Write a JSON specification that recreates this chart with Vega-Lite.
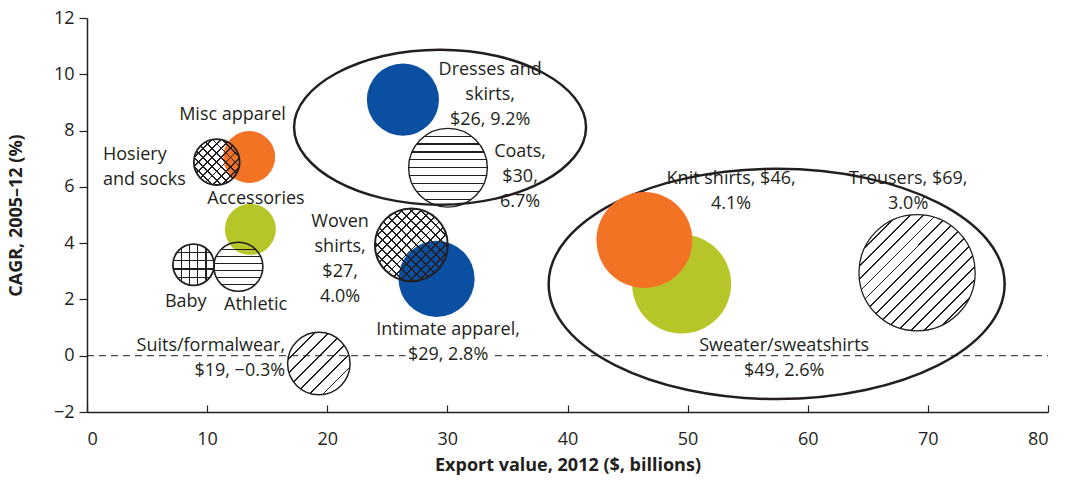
{
  "$schema": "https://vega.github.io/schema/vega-lite/v6.json",
  "width": 961,
  "height": 394,
  "autosize": {"type": "none"},
  "padding": {"left": 87, "top": 18, "right": 20, "bottom": 75},
  "background": "white",
  "config": {
    "view": {"stroke": null},
    "font": "Open Sans",
    "axis": {
      "grid": false,
      "domainColor": "#231f20",
      "domainWidth": 1.5,
      "tickColor": "#231f20",
      "tickWidth": 1.2,
      "labelFont": "Open Sans",
      "labelFontSize": 18,
      "labelColor": "#231f20",
      "titleFont": "Open Sans",
      "titleFontSize": 18,
      "titleFontWeight": "bold",
      "titleColor": "#231f20"
    }
  },
  "datasets": {
    "bubbles": [
      {"item": "Sweater/sweatshirts", "export": 49.5, "cagr": 2.55, "bubble": 98, "segment": "C"},
      {"item": "Knit shirts", "export": 46.4, "cagr": 4.11, "bubble": 92, "segment": "B"},
      {"item": "Dresses and skirts", "export": 26.3, "cagr": 9.1, "bubble": 52, "segment": "A"},
      {"item": "Intimate apparel", "export": 29.1, "cagr": 2.73, "bubble": 58, "segment": "A"},
      {"item": "Misc apparel", "export": 13.5, "cagr": 7.06, "bubble": 27, "segment": "B"},
      {"item": "Accessories", "export": 13.6, "cagr": 4.49, "bubble": 26, "segment": "C"},
      {"item": "Coats", "export": 30.05, "cagr": 6.68, "bubble": 62, "segment": "D"},
      {"item": "Trousers", "export": 69.1, "cagr": 2.95, "bubble": 135, "segment": "D"},
      {"item": "Suits/formalwear", "export": 19.3, "cagr": -0.28, "bubble": 39, "segment": "D"},
      {"item": "Woven shirts", "export": 27.0, "cagr": 3.94, "bubble": 53, "segment": "D"},
      {"item": "Hosiery and socks", "export": 10.8, "cagr": 6.88, "bubble": 21, "segment": "D"},
      {"item": "Baby", "export": 8.87, "cagr": 3.23, "bubble": 17, "segment": "D"},
      {"item": "Athletic", "export": 12.6, "cagr": 3.16, "bubble": 24, "segment": "D"}
    ],
    "labels": [
      {"item": "Misc apparel", "label": "Misc apparel", "export": 12.11, "cagr": 8.62},
      {"item": "Accessories", "label": "Accessories", "export": 14.07, "cagr": 5.64},
      {"item": "Baby", "label": "Baby", "export": 8.22, "cagr": 1.99},
      {"item": "Athletic", "label": "Athletic", "export": 14.03, "cagr": 1.88},
      {"item": "Woven shirts", "label": "Woven\nshirts,\n$27,\n4.0%", "export": 21.07, "cagr": 4.82},
      {"item": "Intimate apparel", "label": "Intimate apparel,\n$29, 2.8%", "export": 30.06, "cagr": 0.99},
      {"item": "Dresses and skirts", "label": "Dresses and\nskirts,\n$26, 9.2%", "export": 33.56, "cagr": 10.21},
      {"item": "Coats", "label": "Coats,\n$30,\n6.7%", "export": 36.05, "cagr": 7.3},
      {"item": "Knit shirts", "label": "Knit shirts, $46,\n4.1%", "export": 53.62, "cagr": 6.35},
      {"item": "Trousers", "label": "Trousers, $69,\n3.0%", "export": 68.36, "cagr": 6.35},
      {"item": "Sweater/sweatshirts", "label": "Sweater/sweatshirts\n$49, 2.6%", "export": 58.04, "cagr": 0.43},
      {"item": "Hosiery and socks", "label": "Hosiery\nand socks", "export": 1.33, "cagr": 7.2},
      {"item": "Suits/formalwear", "label": "Suits/formalwear,\n$19, −0.3%", "export": 16.49, "cagr": 0.43}
    ]
  },
  "encoding": {
    "x": {
      "field": "export", "type": "quantitative",
      "title": "Export value, 2012 ($, billions)",
      "scale": {"domain": [0, 80], "nice": false, "zero": false},
      "axis": {"values": [0, 10, 20, 30, 40, 50, 60, 70, 80], "tickSize": -7, "labelPadding": 25, "titlePadding": 8}
    },
    "y": {
      "field": "cagr", "type": "quantitative",
      "title": "CAGR, 2005–12 (%)",
      "scale": {"domain": [-2, 12], "nice": false, "zero": false},
      "axis": {"values": [-2, 0, 2, 4, 6, 8, 10, 12], "tickSize": 8, "labelPadding": 5, "titlePadding": 28}
    }
  },
  "layer": [
    {
      "data": {"values": [{"export": 29.39, "cagr": 8.12}]},
      "mark": {"type": "point", "filled": false, "opacity": 1, "color": "#231f20", "stroke": "#231f20", "strokeWidth": 2.5, "size": 85264,
        "shape": "M1,0C1,0.2816,0.5523,0.531,0,0.531C-0.5523,0.531,-1,0.2816,-1,0C-1,-0.2816,-0.5523,-0.531,0,-0.531C0.5523,-0.531,1,-0.2816,1,0Z"}
    },
    {
      "data": {"values": [{"export": 57.41, "cagr": 2.55}]},
      "mark": {"type": "point", "filled": false, "opacity": 1, "color": "#231f20", "stroke": "#231f20", "strokeWidth": 2.5, "size": 207936,
        "shape": "M1,0C1,0.2789,0.5523,0.505,0,0.505C-0.5523,0.505,-1,0.2789,-1,0C-1,-0.2789,-0.5523,-0.505,0,-0.505C0.5523,-0.505,1,-0.2789,1,0Z"}
    },
    {
      "data": {"values": [{"export": 0, "export_end": 80, "cagr": 0}]},
      "mark": {"type": "rule", "color": "#231f20", "strokeWidth": 1, "strokeDash": [7, 5]},
      "encoding": {"x2": {"field": "export_end"}}
    },
    {
      "data": {"name": "bubbles"},
      "encoding": {
        "size": {"field": "bubble", "type": "quantitative", "scale": {"domain": [0, 100], "range": [0, 10000]}, "legend": null}
      },
      "layer": [
        {
          "transform": [{"filter": "datum.segment != 'D'"}],
          "mark": {"type": "point", "shape": "circle", "filled": true, "opacity": 1, "strokeWidth": 0},
          "encoding": {"color": {"field": "segment", "type": "nominal", "scale": {"domain": ["A", "B", "C"], "range": ["#0a4fa2", "#f37325", "#b6c629"]}, "legend": null}}
        },
        {
          "transform": [{"filter": "datum.item == 'Coats'"}],
          "mark": {"type": "point", "shape": "circle", "filled": true, "opacity": 1, "stroke": "#231f20", "strokeWidth": 1.4,
            "fill": {"gradient": "linear", "x1": 0, "y1": 0, "x2": 0, "y2": 1, "stops": [
              {"offset": 0.092, "color": "rgba(0,0,0,0)"}, {"offset": 0.092, "color": "#231f20"}, {"offset": 0.108, "color": "#231f20"}, {"offset": 0.108, "color": "rgba(0,0,0,0)"},
              {"offset": 0.192, "color": "rgba(0,0,0,0)"}, {"offset": 0.192, "color": "#231f20"}, {"offset": 0.208, "color": "#231f20"}, {"offset": 0.208, "color": "rgba(0,0,0,0)"},
              {"offset": 0.292, "color": "rgba(0,0,0,0)"}, {"offset": 0.292, "color": "#231f20"}, {"offset": 0.308, "color": "#231f20"}, {"offset": 0.308, "color": "rgba(0,0,0,0)"},
              {"offset": 0.392, "color": "rgba(0,0,0,0)"}, {"offset": 0.392, "color": "#231f20"}, {"offset": 0.408, "color": "#231f20"}, {"offset": 0.408, "color": "rgba(0,0,0,0)"},
              {"offset": 0.492, "color": "rgba(0,0,0,0)"}, {"offset": 0.492, "color": "#231f20"}, {"offset": 0.508, "color": "#231f20"}, {"offset": 0.508, "color": "rgba(0,0,0,0)"},
              {"offset": 0.592, "color": "rgba(0,0,0,0)"}, {"offset": 0.592, "color": "#231f20"}, {"offset": 0.608, "color": "#231f20"}, {"offset": 0.608, "color": "rgba(0,0,0,0)"},
              {"offset": 0.692, "color": "rgba(0,0,0,0)"}, {"offset": 0.692, "color": "#231f20"}, {"offset": 0.708, "color": "#231f20"}, {"offset": 0.708, "color": "rgba(0,0,0,0)"},
              {"offset": 0.792, "color": "rgba(0,0,0,0)"}, {"offset": 0.792, "color": "#231f20"}, {"offset": 0.808, "color": "#231f20"}, {"offset": 0.808, "color": "rgba(0,0,0,0)"},
              {"offset": 0.892, "color": "rgba(0,0,0,0)"}, {"offset": 0.892, "color": "#231f20"}, {"offset": 0.908, "color": "#231f20"}, {"offset": 0.908, "color": "rgba(0,0,0,0)"}
            ]}}
        },
        {
          "transform": [{"filter": "datum.item == 'Athletic'"}],
          "mark": {"type": "point", "shape": "circle", "filled": true, "opacity": 1, "stroke": "#231f20", "strokeWidth": 1.6,
            "fill": {"gradient": "linear", "x1": 0, "y1": 0, "x2": 0, "y2": 1, "stops": [
              {"offset": 0.1296, "color": "rgba(0,0,0,0)"}, {"offset": 0.1296, "color": "#231f20"}, {"offset": 0.1562, "color": "#231f20"}, {"offset": 0.1562, "color": "rgba(0,0,0,0)"},
              {"offset": 0.2724, "color": "rgba(0,0,0,0)"}, {"offset": 0.2724, "color": "#231f20"}, {"offset": 0.299, "color": "#231f20"}, {"offset": 0.299, "color": "rgba(0,0,0,0)"},
              {"offset": 0.4153, "color": "rgba(0,0,0,0)"}, {"offset": 0.4153, "color": "#231f20"}, {"offset": 0.4419, "color": "#231f20"}, {"offset": 0.4419, "color": "rgba(0,0,0,0)"},
              {"offset": 0.5581, "color": "rgba(0,0,0,0)"}, {"offset": 0.5581, "color": "#231f20"}, {"offset": 0.5847, "color": "#231f20"}, {"offset": 0.5847, "color": "rgba(0,0,0,0)"},
              {"offset": 0.701, "color": "rgba(0,0,0,0)"}, {"offset": 0.701, "color": "#231f20"}, {"offset": 0.7276, "color": "#231f20"}, {"offset": 0.7276, "color": "rgba(0,0,0,0)"},
              {"offset": 0.8438, "color": "rgba(0,0,0,0)"}, {"offset": 0.8438, "color": "#231f20"}, {"offset": 0.8704, "color": "#231f20"}, {"offset": 0.8704, "color": "rgba(0,0,0,0)"}
            ]}}
        },
        {
          "transform": [{"filter": "datum.item == 'Trousers'"}],
          "mark": {"type": "point", "shape": "circle", "filled": true, "opacity": 1, "stroke": "#231f20", "strokeWidth": 1.3,
            "fill": {"gradient": "linear", "x1": 0, "y1": 0, "x2": 1, "y2": 1, "stops": [
              {"offset": 0.1627, "color": "rgba(0,0,0,0)"}, {"offset": 0.1627, "color": "#231f20"}, {"offset": 0.1707, "color": "#231f20"}, {"offset": 0.1707, "color": "rgba(0,0,0,0)"},
              {"offset": 0.2182, "color": "rgba(0,0,0,0)"}, {"offset": 0.2182, "color": "#231f20"}, {"offset": 0.2262, "color": "#231f20"}, {"offset": 0.2262, "color": "rgba(0,0,0,0)"},
              {"offset": 0.2738, "color": "rgba(0,0,0,0)"}, {"offset": 0.2738, "color": "#231f20"}, {"offset": 0.2818, "color": "#231f20"}, {"offset": 0.2818, "color": "rgba(0,0,0,0)"},
              {"offset": 0.3293, "color": "rgba(0,0,0,0)"}, {"offset": 0.3293, "color": "#231f20"}, {"offset": 0.3373, "color": "#231f20"}, {"offset": 0.3373, "color": "rgba(0,0,0,0)"},
              {"offset": 0.3849, "color": "rgba(0,0,0,0)"}, {"offset": 0.3849, "color": "#231f20"}, {"offset": 0.3929, "color": "#231f20"}, {"offset": 0.3929, "color": "rgba(0,0,0,0)"},
              {"offset": 0.4404, "color": "rgba(0,0,0,0)"}, {"offset": 0.4404, "color": "#231f20"}, {"offset": 0.4484, "color": "#231f20"}, {"offset": 0.4484, "color": "rgba(0,0,0,0)"},
              {"offset": 0.496, "color": "rgba(0,0,0,0)"}, {"offset": 0.496, "color": "#231f20"}, {"offset": 0.504, "color": "#231f20"}, {"offset": 0.504, "color": "rgba(0,0,0,0)"},
              {"offset": 0.5516, "color": "rgba(0,0,0,0)"}, {"offset": 0.5516, "color": "#231f20"}, {"offset": 0.5596, "color": "#231f20"}, {"offset": 0.5596, "color": "rgba(0,0,0,0)"},
              {"offset": 0.6071, "color": "rgba(0,0,0,0)"}, {"offset": 0.6071, "color": "#231f20"}, {"offset": 0.6151, "color": "#231f20"}, {"offset": 0.6151, "color": "rgba(0,0,0,0)"},
              {"offset": 0.6627, "color": "rgba(0,0,0,0)"}, {"offset": 0.6627, "color": "#231f20"}, {"offset": 0.6707, "color": "#231f20"}, {"offset": 0.6707, "color": "rgba(0,0,0,0)"},
              {"offset": 0.7182, "color": "rgba(0,0,0,0)"}, {"offset": 0.7182, "color": "#231f20"}, {"offset": 0.7262, "color": "#231f20"}, {"offset": 0.7262, "color": "rgba(0,0,0,0)"},
              {"offset": 0.7738, "color": "rgba(0,0,0,0)"}, {"offset": 0.7738, "color": "#231f20"}, {"offset": 0.7818, "color": "#231f20"}, {"offset": 0.7818, "color": "rgba(0,0,0,0)"},
              {"offset": 0.8293, "color": "rgba(0,0,0,0)"}, {"offset": 0.8293, "color": "#231f20"}, {"offset": 0.8373, "color": "#231f20"}, {"offset": 0.8373, "color": "rgba(0,0,0,0)"}
            ]}}
        },
        {
          "transform": [{"filter": "datum.item == 'Suits/formalwear'"}],
          "mark": {"type": "point", "shape": "circle", "filled": true, "opacity": 1, "stroke": "#231f20", "strokeWidth": 1.5,
            "fill": {"gradient": "linear", "x1": 0, "y1": 0, "x2": 1, "y2": 1, "stops": [
              {"offset": 0.2156, "color": "rgba(0,0,0,0)"}, {"offset": 0.2156, "color": "#231f20"}, {"offset": 0.2288, "color": "#231f20"}, {"offset": 0.2288, "color": "rgba(0,0,0,0)"},
              {"offset": 0.3267, "color": "rgba(0,0,0,0)"}, {"offset": 0.3267, "color": "#231f20"}, {"offset": 0.3399, "color": "#231f20"}, {"offset": 0.3399, "color": "rgba(0,0,0,0)"},
              {"offset": 0.4378, "color": "rgba(0,0,0,0)"}, {"offset": 0.4378, "color": "#231f20"}, {"offset": 0.451, "color": "#231f20"}, {"offset": 0.451, "color": "rgba(0,0,0,0)"},
              {"offset": 0.549, "color": "rgba(0,0,0,0)"}, {"offset": 0.549, "color": "#231f20"}, {"offset": 0.5622, "color": "#231f20"}, {"offset": 0.5622, "color": "rgba(0,0,0,0)"},
              {"offset": 0.6601, "color": "rgba(0,0,0,0)"}, {"offset": 0.6601, "color": "#231f20"}, {"offset": 0.6733, "color": "#231f20"}, {"offset": 0.6733, "color": "rgba(0,0,0,0)"},
              {"offset": 0.7712, "color": "rgba(0,0,0,0)"}, {"offset": 0.7712, "color": "#231f20"}, {"offset": 0.7844, "color": "#231f20"}, {"offset": 0.7844, "color": "rgba(0,0,0,0)"}
            ]}}
        },
        {
          "transform": [{"filter": "datum.item == 'Woven shirts'"}],
          "mark": {"type": "point", "shape": "circle", "filled": true, "opacity": 1, "stroke": "#231f20", "strokeWidth": 2,
            "fill": {"gradient": "linear", "x1": 0, "y1": 0, "x2": 1, "y2": 1, "stops": [
              {"offset": 0.1935, "color": "rgba(0,0,0,0)"}, {"offset": 0.1935, "color": "#231f20"}, {"offset": 0.2065, "color": "#231f20"}, {"offset": 0.2065, "color": "rgba(0,0,0,0)"},
              {"offset": 0.2602, "color": "rgba(0,0,0,0)"}, {"offset": 0.2602, "color": "#231f20"}, {"offset": 0.2732, "color": "#231f20"}, {"offset": 0.2732, "color": "rgba(0,0,0,0)"},
              {"offset": 0.3268, "color": "rgba(0,0,0,0)"}, {"offset": 0.3268, "color": "#231f20"}, {"offset": 0.3398, "color": "#231f20"}, {"offset": 0.3398, "color": "rgba(0,0,0,0)"},
              {"offset": 0.3935, "color": "rgba(0,0,0,0)"}, {"offset": 0.3935, "color": "#231f20"}, {"offset": 0.4065, "color": "#231f20"}, {"offset": 0.4065, "color": "rgba(0,0,0,0)"},
              {"offset": 0.4602, "color": "rgba(0,0,0,0)"}, {"offset": 0.4602, "color": "#231f20"}, {"offset": 0.4732, "color": "#231f20"}, {"offset": 0.4732, "color": "rgba(0,0,0,0)"},
              {"offset": 0.5268, "color": "rgba(0,0,0,0)"}, {"offset": 0.5268, "color": "#231f20"}, {"offset": 0.5398, "color": "#231f20"}, {"offset": 0.5398, "color": "rgba(0,0,0,0)"},
              {"offset": 0.5935, "color": "rgba(0,0,0,0)"}, {"offset": 0.5935, "color": "#231f20"}, {"offset": 0.6065, "color": "#231f20"}, {"offset": 0.6065, "color": "rgba(0,0,0,0)"},
              {"offset": 0.6602, "color": "rgba(0,0,0,0)"}, {"offset": 0.6602, "color": "#231f20"}, {"offset": 0.6732, "color": "#231f20"}, {"offset": 0.6732, "color": "rgba(0,0,0,0)"},
              {"offset": 0.7268, "color": "rgba(0,0,0,0)"}, {"offset": 0.7268, "color": "#231f20"}, {"offset": 0.7398, "color": "#231f20"}, {"offset": 0.7398, "color": "rgba(0,0,0,0)"},
              {"offset": 0.7935, "color": "rgba(0,0,0,0)"}, {"offset": 0.7935, "color": "#231f20"}, {"offset": 0.8065, "color": "#231f20"}, {"offset": 0.8065, "color": "rgba(0,0,0,0)"}
            ]}}
        },
        {
          "transform": [{"filter": "datum.item == 'Woven shirts'"}],
          "mark": {"type": "point", "shape": "circle", "filled": true, "opacity": 1, "strokeWidth": 0,
            "fill": {"gradient": "linear", "x1": 1, "y1": 0, "x2": 0, "y2": 1, "stops": [
              {"offset": 0.1935, "color": "rgba(0,0,0,0)"}, {"offset": 0.1935, "color": "#231f20"}, {"offset": 0.2065, "color": "#231f20"}, {"offset": 0.2065, "color": "rgba(0,0,0,0)"},
              {"offset": 0.2602, "color": "rgba(0,0,0,0)"}, {"offset": 0.2602, "color": "#231f20"}, {"offset": 0.2732, "color": "#231f20"}, {"offset": 0.2732, "color": "rgba(0,0,0,0)"},
              {"offset": 0.3268, "color": "rgba(0,0,0,0)"}, {"offset": 0.3268, "color": "#231f20"}, {"offset": 0.3398, "color": "#231f20"}, {"offset": 0.3398, "color": "rgba(0,0,0,0)"},
              {"offset": 0.3935, "color": "rgba(0,0,0,0)"}, {"offset": 0.3935, "color": "#231f20"}, {"offset": 0.4065, "color": "#231f20"}, {"offset": 0.4065, "color": "rgba(0,0,0,0)"},
              {"offset": 0.4602, "color": "rgba(0,0,0,0)"}, {"offset": 0.4602, "color": "#231f20"}, {"offset": 0.4732, "color": "#231f20"}, {"offset": 0.4732, "color": "rgba(0,0,0,0)"},
              {"offset": 0.5268, "color": "rgba(0,0,0,0)"}, {"offset": 0.5268, "color": "#231f20"}, {"offset": 0.5398, "color": "#231f20"}, {"offset": 0.5398, "color": "rgba(0,0,0,0)"},
              {"offset": 0.5935, "color": "rgba(0,0,0,0)"}, {"offset": 0.5935, "color": "#231f20"}, {"offset": 0.6065, "color": "#231f20"}, {"offset": 0.6065, "color": "rgba(0,0,0,0)"},
              {"offset": 0.6602, "color": "rgba(0,0,0,0)"}, {"offset": 0.6602, "color": "#231f20"}, {"offset": 0.6732, "color": "#231f20"}, {"offset": 0.6732, "color": "rgba(0,0,0,0)"},
              {"offset": 0.7268, "color": "rgba(0,0,0,0)"}, {"offset": 0.7268, "color": "#231f20"}, {"offset": 0.7398, "color": "#231f20"}, {"offset": 0.7398, "color": "rgba(0,0,0,0)"},
              {"offset": 0.7935, "color": "rgba(0,0,0,0)"}, {"offset": 0.7935, "color": "#231f20"}, {"offset": 0.8065, "color": "#231f20"}, {"offset": 0.8065, "color": "rgba(0,0,0,0)"}
            ]}}
        },
        {
          "transform": [{"filter": "datum.item == 'Hosiery and socks'"}],
          "mark": {"type": "point", "shape": "circle", "filled": true, "opacity": 1, "stroke": "#231f20", "strokeWidth": 1.8,
            "fill": {"gradient": "linear", "x1": 0, "y1": 0, "x2": 1, "y2": 1, "stops": [
              {"offset": 0.19, "color": "rgba(0,0,0,0)"}, {"offset": 0.19, "color": "#231f20"}, {"offset": 0.21, "color": "#231f20"}, {"offset": 0.21, "color": "rgba(0,0,0,0)"},
              {"offset": 0.29, "color": "rgba(0,0,0,0)"}, {"offset": 0.29, "color": "#231f20"}, {"offset": 0.31, "color": "#231f20"}, {"offset": 0.31, "color": "rgba(0,0,0,0)"},
              {"offset": 0.39, "color": "rgba(0,0,0,0)"}, {"offset": 0.39, "color": "#231f20"}, {"offset": 0.41, "color": "#231f20"}, {"offset": 0.41, "color": "rgba(0,0,0,0)"},
              {"offset": 0.49, "color": "rgba(0,0,0,0)"}, {"offset": 0.49, "color": "#231f20"}, {"offset": 0.51, "color": "#231f20"}, {"offset": 0.51, "color": "rgba(0,0,0,0)"},
              {"offset": 0.59, "color": "rgba(0,0,0,0)"}, {"offset": 0.59, "color": "#231f20"}, {"offset": 0.61, "color": "#231f20"}, {"offset": 0.61, "color": "rgba(0,0,0,0)"},
              {"offset": 0.69, "color": "rgba(0,0,0,0)"}, {"offset": 0.69, "color": "#231f20"}, {"offset": 0.71, "color": "#231f20"}, {"offset": 0.71, "color": "rgba(0,0,0,0)"},
              {"offset": 0.79, "color": "rgba(0,0,0,0)"}, {"offset": 0.79, "color": "#231f20"}, {"offset": 0.81, "color": "#231f20"}, {"offset": 0.81, "color": "rgba(0,0,0,0)"}
            ]}}
        },
        {
          "transform": [{"filter": "datum.item == 'Hosiery and socks'"}],
          "mark": {"type": "point", "shape": "circle", "filled": true, "opacity": 1, "strokeWidth": 0,
            "fill": {"gradient": "linear", "x1": 1, "y1": 0, "x2": 0, "y2": 1, "stops": [
              {"offset": 0.19, "color": "rgba(0,0,0,0)"}, {"offset": 0.19, "color": "#231f20"}, {"offset": 0.21, "color": "#231f20"}, {"offset": 0.21, "color": "rgba(0,0,0,0)"},
              {"offset": 0.29, "color": "rgba(0,0,0,0)"}, {"offset": 0.29, "color": "#231f20"}, {"offset": 0.31, "color": "#231f20"}, {"offset": 0.31, "color": "rgba(0,0,0,0)"},
              {"offset": 0.39, "color": "rgba(0,0,0,0)"}, {"offset": 0.39, "color": "#231f20"}, {"offset": 0.41, "color": "#231f20"}, {"offset": 0.41, "color": "rgba(0,0,0,0)"},
              {"offset": 0.49, "color": "rgba(0,0,0,0)"}, {"offset": 0.49, "color": "#231f20"}, {"offset": 0.51, "color": "#231f20"}, {"offset": 0.51, "color": "rgba(0,0,0,0)"},
              {"offset": 0.59, "color": "rgba(0,0,0,0)"}, {"offset": 0.59, "color": "#231f20"}, {"offset": 0.61, "color": "#231f20"}, {"offset": 0.61, "color": "rgba(0,0,0,0)"},
              {"offset": 0.69, "color": "rgba(0,0,0,0)"}, {"offset": 0.69, "color": "#231f20"}, {"offset": 0.71, "color": "#231f20"}, {"offset": 0.71, "color": "rgba(0,0,0,0)"},
              {"offset": 0.79, "color": "rgba(0,0,0,0)"}, {"offset": 0.79, "color": "#231f20"}, {"offset": 0.81, "color": "#231f20"}, {"offset": 0.81, "color": "rgba(0,0,0,0)"}
            ]}}
        },
        {
          "transform": [{"filter": "datum.item == 'Baby'"}],
          "mark": {"type": "point", "shape": "circle", "filled": true, "opacity": 1, "stroke": "#231f20", "strokeWidth": 1.8,
            "fill": {"gradient": "linear", "x1": 0, "y1": 0, "x2": 0, "y2": 1, "stops": [
              {"offset": 0.1845, "color": "rgba(0,0,0,0)"}, {"offset": 0.1845, "color": "#231f20"}, {"offset": 0.2155, "color": "#231f20"}, {"offset": 0.2155, "color": "rgba(0,0,0,0)"},
              {"offset": 0.3845, "color": "rgba(0,0,0,0)"}, {"offset": 0.3845, "color": "#231f20"}, {"offset": 0.4155, "color": "#231f20"}, {"offset": 0.4155, "color": "rgba(0,0,0,0)"},
              {"offset": 0.5845, "color": "rgba(0,0,0,0)"}, {"offset": 0.5845, "color": "#231f20"}, {"offset": 0.6155, "color": "#231f20"}, {"offset": 0.6155, "color": "rgba(0,0,0,0)"},
              {"offset": 0.7845, "color": "rgba(0,0,0,0)"}, {"offset": 0.7845, "color": "#231f20"}, {"offset": 0.8155, "color": "#231f20"}, {"offset": 0.8155, "color": "rgba(0,0,0,0)"}
            ]}}
        },
        {
          "transform": [{"filter": "datum.item == 'Baby'"}],
          "mark": {"type": "point", "shape": "circle", "filled": true, "opacity": 1, "strokeWidth": 0,
            "fill": {"gradient": "linear", "x1": 0, "y1": 0, "x2": 1, "y2": 0, "stops": [
              {"offset": 0.1845, "color": "rgba(0,0,0,0)"}, {"offset": 0.1845, "color": "#231f20"}, {"offset": 0.2155, "color": "#231f20"}, {"offset": 0.2155, "color": "rgba(0,0,0,0)"},
              {"offset": 0.3845, "color": "rgba(0,0,0,0)"}, {"offset": 0.3845, "color": "#231f20"}, {"offset": 0.4155, "color": "#231f20"}, {"offset": 0.4155, "color": "rgba(0,0,0,0)"},
              {"offset": 0.5845, "color": "rgba(0,0,0,0)"}, {"offset": 0.5845, "color": "#231f20"}, {"offset": 0.6155, "color": "#231f20"}, {"offset": 0.6155, "color": "rgba(0,0,0,0)"},
              {"offset": 0.7845, "color": "rgba(0,0,0,0)"}, {"offset": 0.7845, "color": "#231f20"}, {"offset": 0.8155, "color": "#231f20"}, {"offset": 0.8155, "color": "rgba(0,0,0,0)"}
            ]}}
        }
      ]
    },
    {
      "data": {"name": "labels"},
      "transform": [{"filter": "datum.item == 'Intimate apparel'"}],
      "mark": {"type": "text", "lineBreak": "\n", "font": "Open Sans", "fontSize": 18, "lineHeight": 25, "color": "white", "stroke": "white", "strokeWidth": 7, "align": "center", "baseline": "middle", "dy": 2},
      "encoding": {"text": {"field": "label", "type": "nominal"}}
    },
    {
      "data": {"name": "labels"},
      "transform": [{"filter": "datum.item != 'Hosiery and socks' && datum.item != 'Suits/formalwear'"}],
      "mark": {"type": "text", "lineBreak": "\n", "font": "Open Sans", "fontSize": 18, "lineHeight": 25, "color": "#231f20", "align": "center", "baseline": "middle", "dy": 2},
      "encoding": {"text": {"field": "label", "type": "nominal"}}
    },
    {
      "data": {"name": "labels"},
      "transform": [{"filter": "datum.item == 'Hosiery and socks'"}],
      "mark": {"type": "text", "lineBreak": "\n", "font": "Open Sans", "fontSize": 18, "lineHeight": 25, "color": "#231f20", "align": "left", "baseline": "middle", "dy": 2},
      "encoding": {"text": {"field": "label", "type": "nominal"}}
    },
    {
      "data": {"name": "labels"},
      "transform": [{"filter": "datum.item == 'Suits/formalwear'"}],
      "mark": {"type": "text", "lineBreak": "\n", "font": "Open Sans", "fontSize": 18, "lineHeight": 25, "color": "#231f20", "align": "right", "baseline": "middle", "dy": 2},
      "encoding": {"text": {"field": "label", "type": "nominal"}}
    }
  ]
}
